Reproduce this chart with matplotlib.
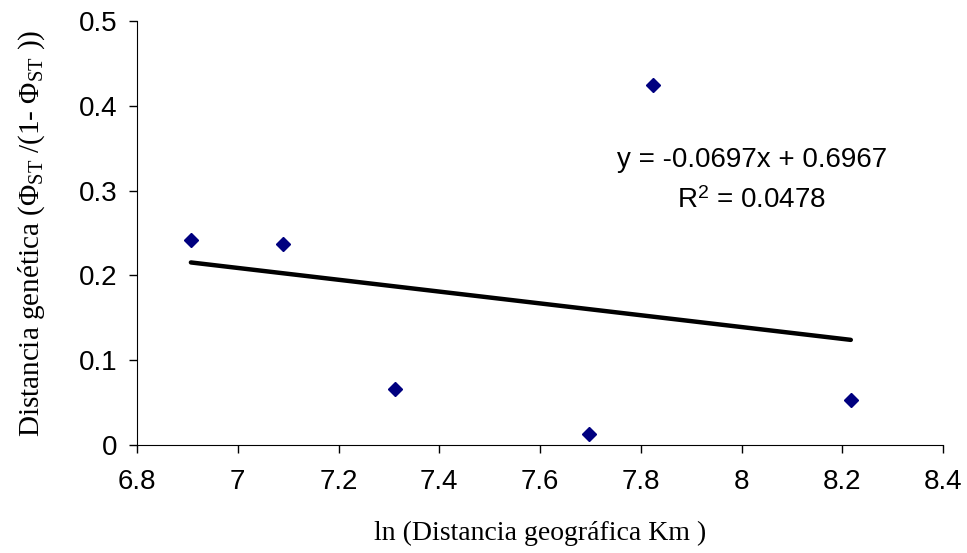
import numpy as np
import matplotlib
matplotlib.use('Agg')
import matplotlib.pyplot as plt

# ln of geographic distance (km) and pairwise genetic distance
lnDist = [6.907, 7.090, 7.312, 7.825, 7.697, 8.217]
genDist = [0.242, 0.237, 0.066, 0.424, 0.013, 0.053]

# linear trend as reported on the chart
slope = -0.0697
intercept = 0.6967
r2 = 0.0478

xTicks = [6.8, 7.0, 7.2, 7.4, 7.6, 7.8, 8.0, 8.2, 8.4]
xTickLabels = ['6.8', '7', '7.2', '7.4', '7.6', '7.8', '8', '8.2', '8.4']
yTicks = [0, 0.1, 0.2, 0.3, 0.4, 0.5]
yTickLabels = ['0', '0.1', '0.2', '0.3', '0.4', '0.5']

plt.rcParams['font.family'] = 'Liberation Sans'
plt.rcParams['mathtext.fontset'] = 'custom'
plt.rcParams['mathtext.rm'] = 'Liberation Serif'
plt.rcParams['mathtext.it'] = 'Liberation Serif:italic'

fig = plt.figure(figsize = (9.67, 5.53), dpi = 100)
ax = fig.add_axes([137 / 967, 1 - 445 / 553, 806 / 967, 424 / 553])

# scatter points
ax.plot(lnDist, genDist, linestyle = 'none', marker = 'D', markersize = 6.8,
        color = '#000080', zorder = 3)

# trendline over the data range
xLine = np.array([min(lnDist), max(lnDist)])
ax.plot(xLine, slope * xLine + intercept, color = 'black', linewidth = 3.2,
        solid_capstyle = 'round', zorder = 2)

# equation and R^2 (figure pixel positions, y measured from the top)
ax.text(752 / 967, 1 - 160 / 553, 'y = %.4fx + %.4f' % (slope, intercept),
        transform = fig.transFigure, fontsize = 20, ha = 'center', va = 'center')
ax.text(752 / 967, 1 - 201 / 553, 'R$^{\\mathregular{2}}$ = %.4f' % r2,
        transform = fig.transFigure, fontsize = 20, ha = 'center', va = 'center')

ax.set_xlim(6.8, 8.4)
ax.set_ylim(0, 0.5)
ax.set_xticks(xTicks)
ax.set_xticklabels(xTickLabels)
ax.set_yticks(yTicks)
ax.set_yticklabels(yTickLabels)
ax.tick_params(direction = 'out', length = 6, width = 1, labelsize = 20)
ax.tick_params(axis = 'x', pad = 11)
ax.tick_params(axis = 'y', pad = 8)

for side in ['top', 'right']:
    ax.spines[side].set_visible(False)

ax.set_xlabel('ln (Distancia geográfica Km )', family = 'Liberation Serif',
              fontsize = 20, labelpad = 19)
ax.set_ylabel('Distancia genética (Φ$_{\\mathrm{ST}}$ /(1- Φ$_{\\mathrm{ST}}$ ))',
              family = 'Liberation Serif', fontsize = 21, labelpad = 23)

fig.savefig('out.png', dpi = 100)
